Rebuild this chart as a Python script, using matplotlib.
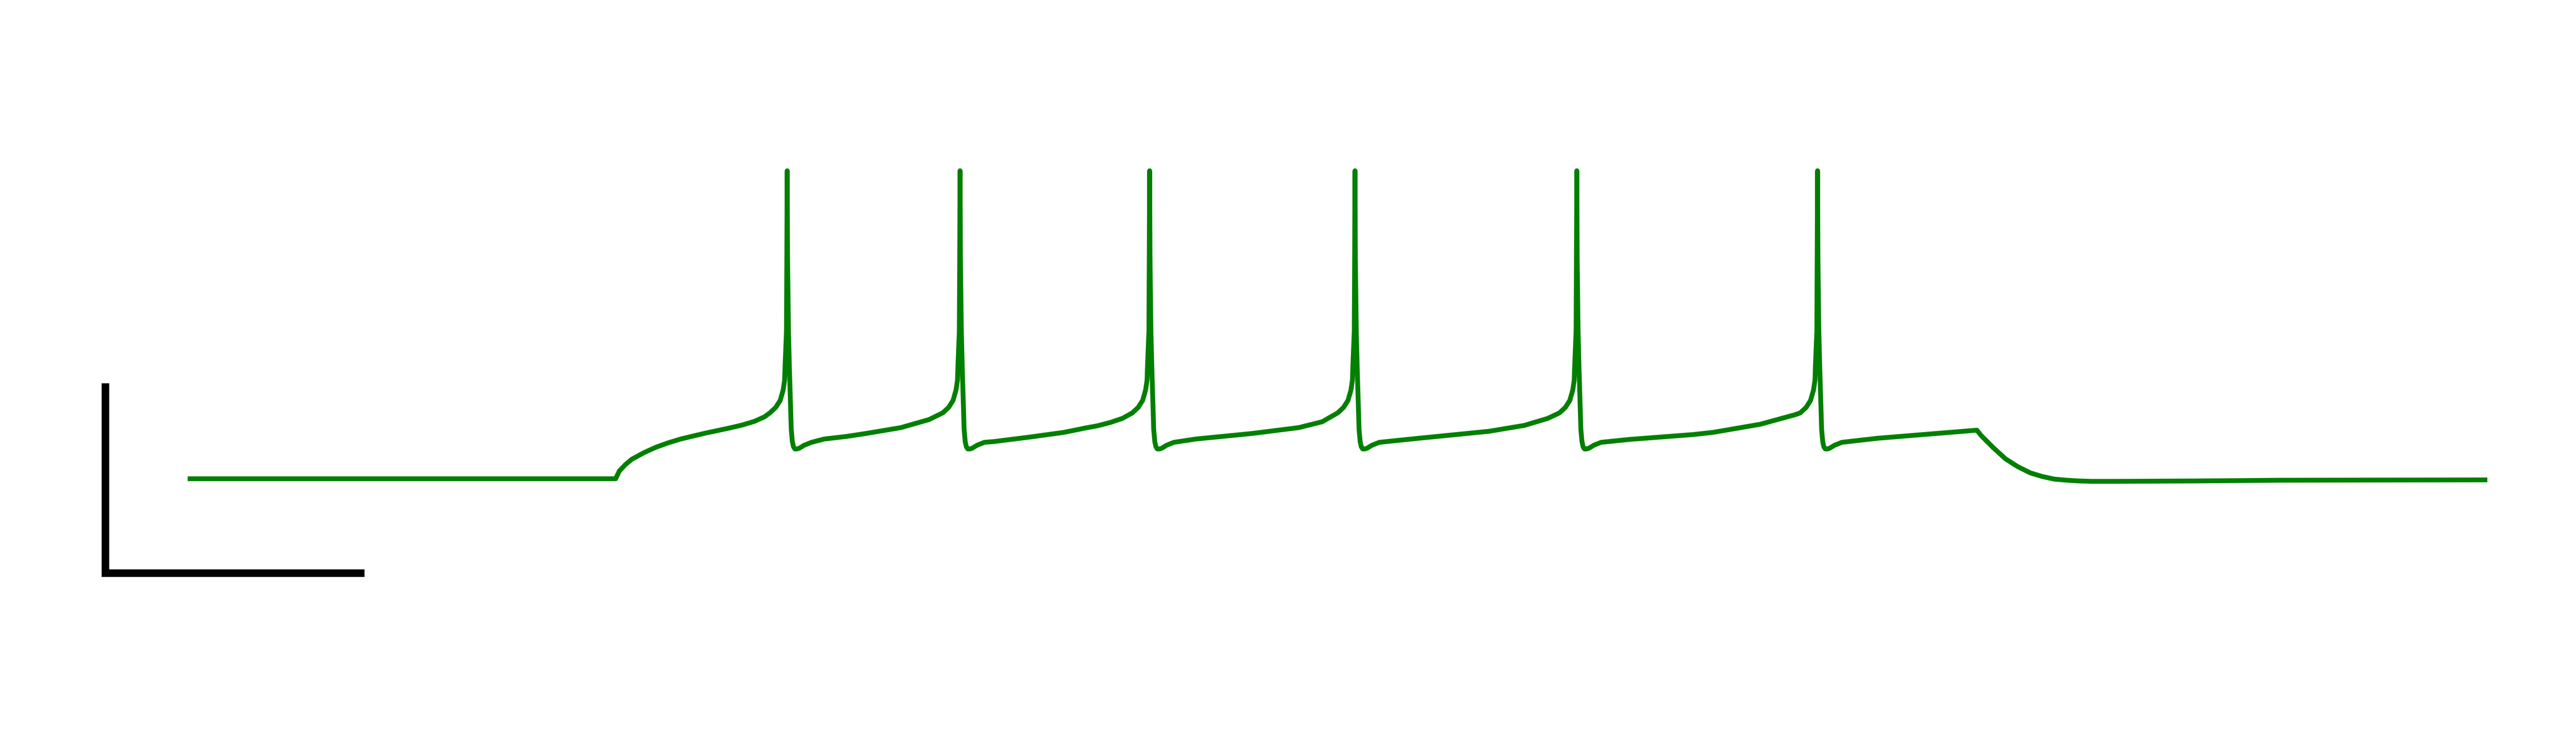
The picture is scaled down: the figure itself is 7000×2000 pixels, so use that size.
# -*- coding: utf-8 -*-
#%% Imports
import numpy as np
from matplotlib import pyplot as plt

#%% Data: membrane potential trace (ms, mV)
time_ms = [0.0, 325.3, 328.1, 332.9, 337.6, 346.9, 356.1, 365.6, 374.8, 384.1,
           393.6, 402.8, 412.0, 421.5, 430.8, 438.3,
           # spike 1
           442.55, 447.03, 450.39, 452.62, 453.74, 454.02, 454.58, 455.14, 455.42, 455.7,
           455.98, 456.68, 457.38, 458.22, 458.78, 459.62, 460.46, 461.57, 463.25, 464.93,
           468.57, 474.16,
           483.9, 500.7, 515.5, 542.1, 563.6,
           # spike 2
           573.95, 578.43, 581.79, 584.02, 585.14, 585.42, 585.98, 586.54, 586.82, 587.1,
           587.38, 588.08, 588.78, 589.62, 590.18, 591.02, 591.86, 592.97, 594.65, 596.33,
           599.97, 605.56,
           612.6, 639.4, 666.0, 682.5, 691.7, 701.3, 710.5,
           # spike 3
           718.05, 722.53, 725.89, 728.12, 729.24, 729.52, 730.08, 730.64, 730.92, 731.2,
           731.48, 732.18, 732.88, 733.72, 734.28, 735.12, 735.96, 737.07, 738.75, 740.43,
           744.07, 749.66,
           766.4, 780.4, 808.9, 844.5, 862.4,
           # spike 4
           874.15, 878.63, 881.99, 884.22, 885.34, 885.62, 886.18, 886.74, 887.02, 887.3,
           887.58, 888.28, 888.98, 889.82, 890.38, 891.22, 892.06, 893.17, 894.85, 896.53,
           900.17, 905.76,
           935.7, 989.1, 1016.0, 1033.8,
           # spike 5
           1042.75, 1047.23, 1050.59, 1052.82, 1053.94, 1054.22, 1054.78, 1055.34, 1055.62, 1055.9,
           1056.18, 1056.88, 1057.58, 1058.42, 1058.98, 1059.82, 1060.66, 1061.77, 1063.45, 1065.13,
           1068.77, 1074.36,
           1096.2, 1144.1, 1159.4, 1195.2, 1221.8,
           # spike 6
           1225.75, 1230.23, 1233.59, 1235.82, 1236.94, 1237.22, 1237.78, 1238.34, 1238.62, 1238.9,
           1239.18, 1239.88, 1240.58, 1241.42, 1241.98, 1242.82, 1243.66, 1244.77, 1246.45, 1248.13,
           1251.77, 1257.36,
           1284.5, 1360.0,
           # end of step, decay back to rest
           1363.1, 1372.6, 1381.8, 1391.0, 1400.6, 1409.8, 1419.0, 1428.5, 1437.8, 1447.0,
           1465.7, 1525.9, 1591.6, 1748.0]

vm_mv = [-70.0, -70.0, -68.0, -66.29, -64.96, -63.25, -61.83, -60.68, -59.73, -58.97,
         -58.21, -57.55, -56.88, -56.12, -55.17, -54.03,
         # spike 1
         -52.98, -51.56, -49.75, -47.09, -44.52, -41.39, -36.73, -31.88, -12.87, 9.56,
         -12.87, -31.88, -41.39, -50.89, -57.26, -60.40, -61.73, -62.30, -62.30, -62.11,
         -61.35, -60.59,
         -59.73, -59.07, -58.31, -56.79, -54.70,
         # spike 2
         -52.98, -51.56, -49.75, -47.09, -44.52, -41.39, -36.73, -31.88, -12.87, 9.56,
         -12.87, -31.88, -41.39, -50.89, -57.26, -60.40, -61.73, -62.30, -62.30, -62.11,
         -61.35, -60.59,
         -60.40, -59.26, -58.02, -56.88, -56.31, -55.46, -54.41,
         # spike 3
         -52.98, -51.56, -49.75, -47.09, -44.52, -41.39, -36.73, -31.88, -12.87, 9.56,
         -12.87, -31.88, -41.39, -50.89, -57.26, -60.40, -61.73, -62.30, -62.30, -62.11,
         -61.35, -60.59,
         -59.73, -59.26, -58.31, -56.79, -55.27,
         # spike 4
         -52.98, -51.56, -49.75, -47.09, -44.52, -41.39, -36.73, -31.88, -12.87, 9.56,
         -12.87, -31.88, -41.39, -50.89, -57.26, -60.40, -61.73, -62.30, -62.30, -62.11,
         -61.35, -60.59,
         -59.54, -57.74, -56.22, -54.41,
         # spike 5
         -52.98, -51.56, -49.75, -47.09, -44.52, -41.39, -36.73, -31.88, -12.87, 9.56,
         -12.87, -31.88, -41.39, -50.89, -57.26, -60.40, -61.73, -62.30, -62.30, -62.11,
         -61.35, -60.59,
         -59.83, -58.59, -58.02, -55.93, -53.46,
         # spike 6
         -52.98, -51.56, -49.75, -47.09, -44.52, -41.39, -36.73, -31.88, -12.87, 9.56,
         -12.87, -31.88, -41.39, -50.89, -57.26, -60.40, -61.73, -62.30, -62.30, -62.11,
         -61.35, -60.59,
         -59.54, -57.45,
         # decay
         -58.78, -62.02, -64.87, -66.86, -68.48, -69.43, -70.10, -70.38, -70.57, -70.67,
         -70.67, -70.57, -70.38, -70.29]

# scale bar (ms, mV)
bar_t0 = -62.7
bar_v0 = -94.3
bar_len_ms = 197.0
bar_len_mv = 49.0

print(len(time_ms), len(vm_mv))

#%% Plot
fig = plt.figure(figsize=(70, 20), dpi=100)
ax = fig.add_axes([0, 0, 1, 1])

ax.plot(time_ms, vm_mv, color='green', lw=9.4,
        solid_joinstyle='round', solid_capstyle='butt')

ax.plot([bar_t0, bar_t0, bar_t0 + bar_len_ms],
        [bar_v0 + bar_len_mv, bar_v0, bar_v0],
        color='black', lw=14.8, solid_joinstyle='miter', solid_capstyle='butt')

ax.set_xlim(-142.66, 1815.4)
ax.set_ylim(-136.45, 53.67)
ax.axis('off')

fig.savefig('out.png', dpi=100, facecolor='white')
